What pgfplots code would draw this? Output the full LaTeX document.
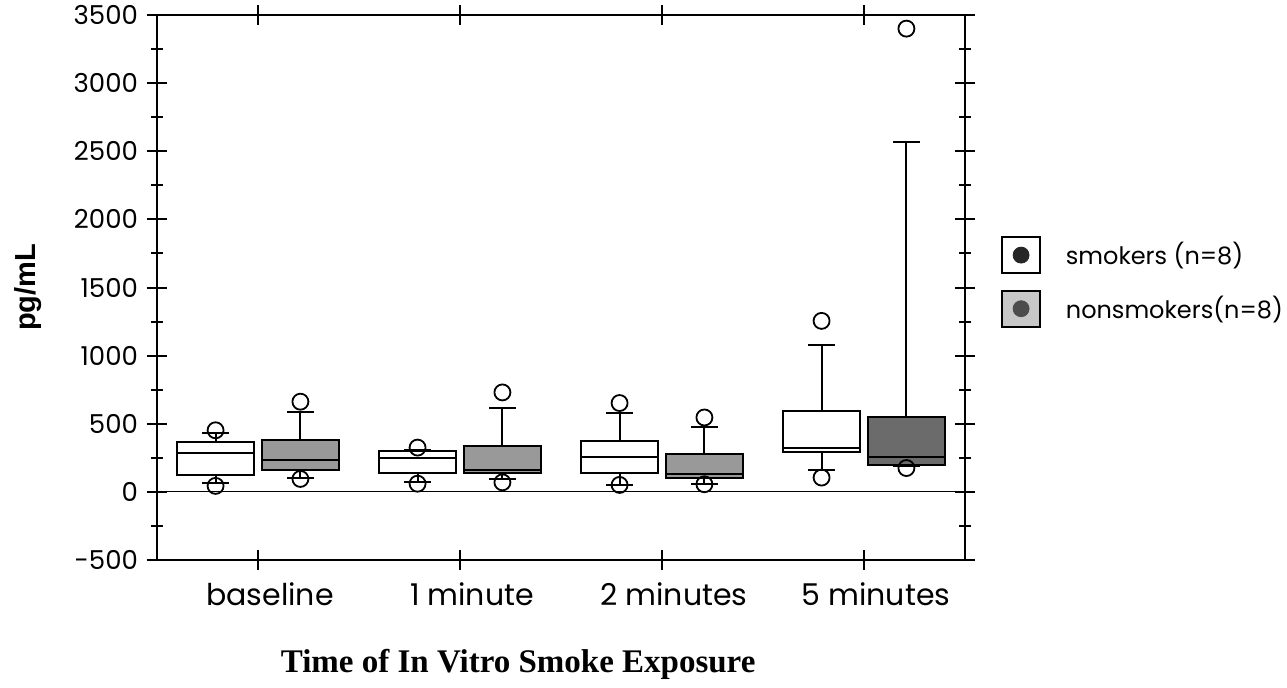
\documentclass[border=0pt]{standalone}
\usepackage{pgfplots}
\pgfplotsset{compat=1.18}
\usepgfplotslibrary{statistics}
\usepackage{fontspec}
\setmainfont{Liberation Serif}
\newfontfamily\gothic{Poppins}
\newfontfamily\helv{Liberation Sans}
\begin{document}
\begin{tikzpicture}
\useasboundingbox (0,0) rectangle (643.5pt,343.5pt);
\begin{axis}[
  at={(78.5pt,63.5pt)}, anchor=south west,
  scale only axis, width=404pt, height=272.5pt,
  xmin=-0.5, xmax=3.5, ymin=-500, ymax=3500,
  axis line style={line width=1pt},
  xtick={0,1,2,3},
  xticklabels={baseline,1 minute,2 minutes,5 minutes},
  xticklabel style={font=\gothic\fontsize{15}{17}\selectfont, xshift=6pt, yshift=-3pt},
  ytick={-500,0,500,1000,1500,2000,2500,3000,3500},
  yticklabels={-500,0,500,1000,1500,2000,2500,3000,3500},
  yticklabel style={font=\gothic\fontsize{13}{15}\selectfont, xshift=-1pt},
  minor ytick={-250,250,750,1250,1750,2250,2750,3250},
  tick align=center, tick pos=both,
  major tick length=10pt, minor tick length=6pt,
  tick style={line width=1pt, black},
  xlabel={\bfseries Time of In Vitro Smoke Exposure},
  xlabel style={font=\fontsize{16.5}{19}\selectfont, at={(axis description cs:0.447,0)}, anchor=center, yshift=-52pt},
  ylabel={pg/mL},
  ylabel style={font=\helv\bfseries\fontsize{14.5}{17}\selectfont, at={(axis description cs:-0.159,0.5)}, anchor=center},
  legend style={at={(axis description cs:1.037,0.602)}, anchor=north west, draw=none, fill=none,
    font=\gothic\fontsize{12}{14}\selectfont, row sep=8pt, cells={anchor=west},
    nodes={inner xsep=6pt}, /tikz/every odd column/.append style={column sep=6.5pt}},
  boxplot/draw direction=y,
  clip=false,
]
\addlegendimage{legend image code/.code={\draw[black, line width=0.8pt, fill=white] (0pt,-9pt) rectangle (19pt,9pt); \fill[black!85] (9.5pt,0pt) circle (4pt);}}
\addlegendentry{smokers (n=8)}
\addlegendimage{legend image code/.code={\draw[black, line width=0.8pt, fill=black!22] (0pt,-9pt) rectangle (19pt,9pt); \fill[black!70] (9.5pt,0pt) circle (4pt);}}
\addlegendentry{nonsmokers(n=8)}

\addplot[forget plot, black, line width=0.6pt] coordinates {(-0.5,0) (3.5,0)};

\pgfplotsset{
  smk/.style={forget plot, black, line width=1pt, fill=white, mark=o, mark size=4pt, mark options={line width=0.9pt, fill=none}},
  non/.style={forget plot, black, line width=1pt, fill=black!40, mark=o, mark size=4pt, mark options={line width=0.9pt, fill=none}},
}
% baseline
\addplot[smk, boxplot prepared={draw position=-0.21, box extend=0.38, whisker extend=0.13,
  lower whisker=66, lower quartile=127, median=287, upper quartile=368, upper whisker=429}]
  table[row sep=\\, y index=0] {452\\ 44\\};
\addplot[non, boxplot prepared={draw position=0.21, box extend=0.38, whisker extend=0.13,
  lower whisker=101, lower quartile=164, median=233, upper quartile=380, upper whisker=583}]
  table[row sep=\\, y index=0] {662\\ 95\\};
% 1 minute
\addplot[smk, boxplot prepared={draw position=0.79, box extend=0.38, whisker extend=0.13,
  lower whisker=76, lower quartile=142, median=248, upper quartile=301, upper whisker=305}]
  table[row sep=\\, y index=0] {325\\ 60\\};
\addplot[non, boxplot prepared={draw position=1.21, box extend=0.38, whisker extend=0.13,
  lower whisker=98, lower quartile=142, median=160, upper quartile=338, upper whisker=615}]
  table[row sep=\\, y index=0] {730\\ 70\\};
% 2 minutes
\addplot[smk, boxplot prepared={draw position=1.79, box extend=0.38, whisker extend=0.13,
  lower whisker=51, lower quartile=137, median=257, upper quartile=375, upper whisker=576}]
  table[row sep=\\, y index=0] {652\\ 51\\};
\addplot[non, boxplot prepared={draw position=2.21, box extend=0.38, whisker extend=0.13,
  lower whisker=56, lower quartile=101, median=130, upper quartile=277, upper whisker=478}]
  table[row sep=\\, y index=0] {546\\ 56\\};
% 5 minutes
\addplot[smk, boxplot prepared={draw position=2.79, box extend=0.38, whisker extend=0.13,
  lower whisker=159, lower quartile=296, median=321, upper quartile=590, upper whisker=1076}]
  table[row sep=\\, y index=0] {1255\\ 105\\};
\addplot[non, fill=black!58, boxplot prepared={draw position=3.21, box extend=0.38, whisker extend=0.13,
  lower whisker=190, lower quartile=200, median=257, upper quartile=551, upper whisker=2566}]
  table[row sep=\\, y index=0] {3400\\ 175\\};
\end{axis}
\end{tikzpicture}
\end{document}
